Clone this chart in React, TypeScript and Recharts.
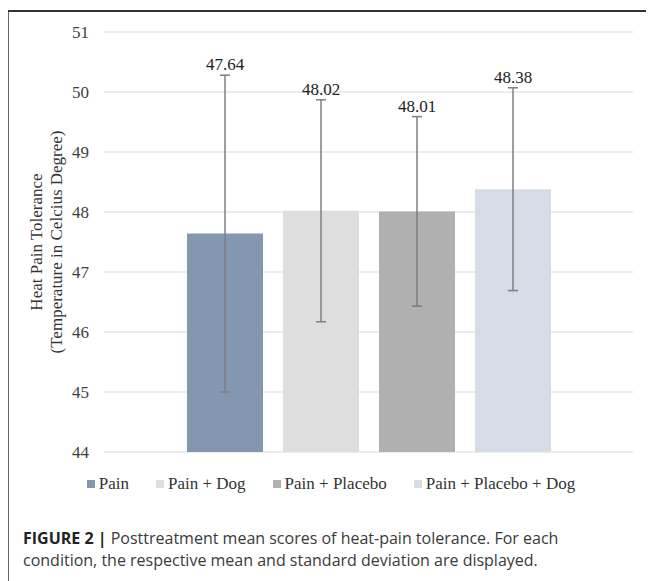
import { Bar, BarChart, CartesianGrid, ErrorBar, LabelList, Legend, XAxis, YAxis } from "recharts";

const conditions = ["Pain", "Pain + Dog", "Pain + Placebo", "Pain + Placebo + Dog"];
const means = [47.64, 48.02, 48.01, 48.38];
const sds = [2.64, 1.85, 1.58, 1.69];
const colors = ["#8497b0", "#dedede", "#b0b0b0", "#d6dce5"];
const yTicks = [44, 45, 46, 47, 48, 49, 50, 51];

const row: Record<string, string | number> = { group: "Posttreatment" };
conditions.forEach((_, i) => {
  row[`m${i}`] = means[i];
  row[`e${i}`] = sds[i];
});
const data = [row];

const serif = "'Liberation Serif', 'Times New Roman', serif";

function valueLabel(i: number) {
  return (props: any) => {
    const { x, y, width, height, value } = props;
    const perUnit = height / (value - yTicks[0]);
    const top = y - sds[i] * perUnit;
    return (
      <text x={x + width / 2} y={top - 5} textAnchor="middle" fontFamily={serif} fontSize={17} fill="#222">
        {value.toFixed(2)}
      </text>
    );
  };
}

function AxisTitle(props: any) {
  const { viewBox } = props;
  const cy = viewBox.y + viewBox.height / 2;
  const x1 = viewBox.x - 8;
  const x2 = viewBox.x + 12;
  return (
    <g fontFamily={serif} fontSize={17} fill="#333">
      <text x={x1} y={cy} textAnchor="middle" dominantBaseline="central" transform={`rotate(-90 ${x1} ${cy})`}>
        Heat Pain Tolerance
      </text>
      <text x={x2} y={cy} textAnchor="middle" dominantBaseline="central" transform={`rotate(-90 ${x2} ${cy})`}>
        (Temperature in Celcius Degree)
      </text>
    </g>
  );
}

function YTick(props: any) {
  const { x, y, payload } = props;
  return (
    <text x={x} y={y} dy="0.355em" textAnchor="end" fontFamily={serif} fontSize={17} fill="#404040">
      {payload.value}
    </text>
  );
}

function LegendRow() {
  return (
    <div style={{ display: "flex", justifyContent: "center", alignItems: "center", height: 20 }}>
      {conditions.map((c, i) => (
        <div key={c} style={{ display: "flex", alignItems: "center", marginRight: i < conditions.length - 1 ? 27 : 0 }}>
          <span style={{ width: 8, height: 8, background: colors[i], marginRight: 4, display: "inline-block" }} />
          <span style={{ fontFamily: serif, fontSize: 17, color: "#333" }}>{c}</span>
        </div>
      ))}
    </div>
  );
}

export default function App() {
  return (
    <div style={{ position: "relative", width: 646, height: 573 }}>
      <div style={{ position: "absolute", left: 0, top: 0 }}>
        <BarChart
          width={646}
          height={500}
          data={data}
          margin={{ top: 24, right: 21, left: 36, bottom: 14 }}
          barSize={76}
          barGap={20}
        >
          <CartesianGrid stroke="#d9d9d9" vertical={false} />
          <XAxis dataKey="group" tick={false} tickLine={false} axisLine={false} height={22} />
          <YAxis
            type="number"
            domain={[44, 51]}
            ticks={yTicks}
            width={60}
            axisLine={false}
            tickLine={false}
            tickSize={6}
            tickMargin={9}
            tick={<YTick />}
            label={{ content: <AxisTitle /> }}
          />
          <Legend verticalAlign="bottom" wrapperStyle={{ left: 0, width: 646 }} content={<LegendRow />} />
          {conditions.map((c, i) => (
            <Bar key={c} dataKey={`m${i}`} name={c} fill={colors[i]} isAnimationActive={false}>
              <ErrorBar dataKey={`e${i}`} width={5} stroke="#7f7f7f" strokeWidth={1.5} isAnimationActive={false} />
              <LabelList dataKey={`m${i}`} content={valueLabel(i)} />
            </Bar>
          ))}
        </BarChart>
      </div>
      <div style={{ position: "absolute", left: -1, top: 2, width: 2, height: 571, background: "#666" }} />
      <div style={{ position: "absolute", left: -1, top: 2, width: 647, height: 1.5, background: "#333" }} />
      <div
        style={{
          position: "absolute",
          left: 15,
          top: 519,
          fontFamily: "'Open Sans', 'Liberation Sans', sans-serif",
          fontSize: 16,
          lineHeight: "22px",
          color: "#3a3a3a",
          whiteSpace: "nowrap",
        }}
      >
        <span style={{ fontWeight: 700, color: "#222" }}>FIGURE 2 |</span> Posttreatment mean scores of heat-pain tolerance. For each
        <br />
        condition, the respective mean and standard deviation are displayed.
      </div>
    </div>
  );
}
